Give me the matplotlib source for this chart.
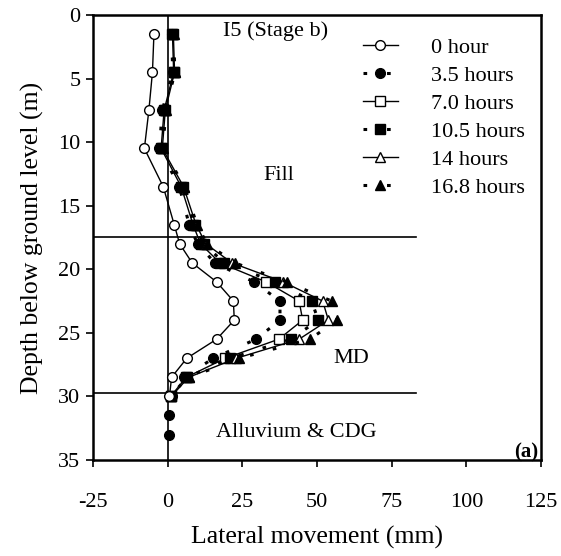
import matplotlib
matplotlib.use("Agg")
import matplotlib.pyplot as plt

plt.rcParams['font.family'] = ['Liberation Serif', 'DejaVu Serif']
plt.rcParams['axes.unicode_minus'] = False

depth = [1.5, 4.5, 7.5, 10.5, 13.5, 16.5, 18, 19.5, 21, 22.5, 24, 25.5, 27, 28.5, 30, 31.5, 33]
depth_30 = depth[:15]

h0 = [-4.6, -5.1, -6.3, -7.8, -1.5, 2.2, 4.0, 8.2, 16.4, 22.0, 22.3, 16.4, 6.4, 1.3, 0.6]
h3_5 = [1.3, 1.7, -1.8, -2.8, 3.9, 7.2, 10.0, 15.8, 28.9, 37.6, 37.6, 29.6, 15.3, 5.5, 1.3, 0.4, 0.4]
h7_0 = [1.6, 2.0, -1.2, -2.2, 4.5, 8.5, 11.0, 17.5, 33.0, 44.0, 45.2, 37.2, 19.3, 6.2, 1.0]
h10_5 = [1.8, 2.2, -1.0, -2.0, 5.0, 9.0, 12.0, 19.0, 36.0, 48.2, 50.4, 41.3, 21.0, 6.5, 1.0]
h14 = [1.9, 2.3, -0.8, -1.8, 5.3, 9.5, 12.8, 21.5, 38.7, 51.9, 53.8, 44.0, 23.0, 7.0, 1.2]
h16_8 = [2.0, 2.4, -0.6, -1.6, 5.6, 9.8, 13.2, 22.5, 39.8, 54.9, 56.8, 47.6, 24.0, 7.3, 1.2]

labels = ['0 hour', '3.5 hours', '7.0 hours', '10.5 hours', '14 hours', '16.8 hours']
layer_bounds = [17.5, 29.7]
layer_line_xmax = 83

xticks = [-25, 0, 25, 50, 75, 100, 125]
yticks = [0, 5, 10, 15, 20, 25, 30, 35]

fig = plt.figure(figsize=(5.61, 5.56), dpi=100)
ax = fig.add_axes([0.1658, 0.1727, 0.7986, 0.8004])

dotted = (0, (1.2, 6.5))
ms = 7
ax.plot(h0, depth_30, color='black', lw=1, marker='o', ms=ms, mfc='white', mec='black', mew=1, label=labels[0], zorder=5)
ax.plot(h3_5, depth, color='black', lw=2.2, ls=dotted, marker='o', ms=ms, mfc='black', mec='black', label=labels[1], zorder=4.5)
ax.plot(h7_0, depth_30, color='black', lw=1, marker='s', ms=6.5, mfc='white', mec='black', mew=1, label=labels[2], zorder=4)
ax.plot(h10_5, depth_30, color='black', lw=2.2, ls=dotted, marker='s', ms=6.5, mfc='black', mec='black', label=labels[3], zorder=4)
ax.plot(h14, depth_30, color='black', lw=1, marker='^', ms=7.5, mfc='white', mec='black', mew=1, label=labels[4], zorder=4)
ax.plot(h16_8, depth_30, color='black', lw=2.2, ls=dotted, marker='^', ms=7.5, mfc='black', mec='black', label=labels[5], zorder=4)

# layer boundaries and zero line
for b in layer_bounds:
    ax.plot([-25, layer_line_xmax], [b, b], color='black', lw=1.2, zorder=2)
ax.axvline(0, color='black', lw=1.2, zorder=2)

ax.set_xlim(-25, 125)
ax.set_ylim(35, 0)
ax.set_xticks(xticks)
ax.set_yticks(yticks)
ax.tick_params(axis='both', direction='out', length=5, width=1.2, labelsize=16)
ax.tick_params(axis='x', pad=19)
ax.tick_params(axis='y', pad=4)
for s in ax.spines.values():
    s.set_linewidth(1.8)
    s.set_color('black')

ax.set_xlabel('Lateral movement (mm)', fontsize=18.5, labelpad=10)
ax.set_ylabel('Depth below ground level (m)', fontsize=18.5, labelpad=10)

ax.text(36, 1.3, 'I5 (Stage b)', ha='center', va='center', fontsize=16)
ax.text(37.3, 12.6, 'Fill', ha='center', va='center', fontsize=16)
ax.text(61.4, 27.0, 'MD', ha='center', va='center', fontsize=16)
ax.text(43, 32.8, 'Alluvium & CDG', ha='center', va='center', fontsize=16)
ax.text(124, 34.4, '(a)', ha='right', va='center', fontsize=15, fontweight='bold')

leg = ax.legend(loc='upper left', bbox_to_anchor=(0.603, 0.949), frameon=False,
                fontsize=16, handlelength=1.55, handletextpad=1.5,
                labelspacing=0.33, borderpad=0, borderaxespad=0)

fig.savefig('out.png', dpi=100)
